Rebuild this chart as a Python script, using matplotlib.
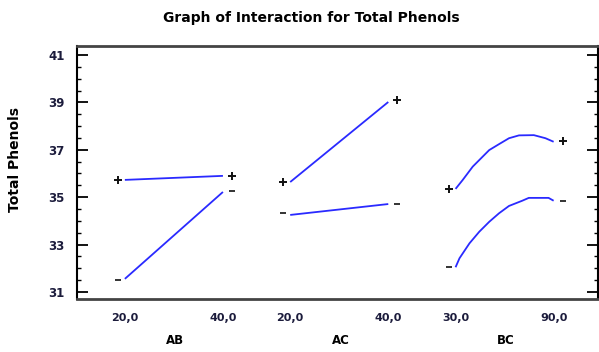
import matplotlib
matplotlib.use("Agg")
import matplotlib.pyplot as plt
from matplotlib.ticker import MultipleLocator

# interaction groups and factor levels
groups = ["AB", "AC", "BC"]
levels = [[20.0, 40.0], [20.0, 40.0], [30.0, 90.0]]
level_labels = [["20,0", "40,0"], ["20,0", "40,0"], ["30,0", "90,0"]]

# lines: x values (first factor) and Total Phenols, "+" = high level, "-" = low level
ab_x = [20.0, 40.0]
ab_plus = [35.73, 35.90]
ab_minus = [31.55, 35.22]

ac_x = [20.0, 40.0]
ac_plus = [35.64, 39.02]
ac_minus = [34.25, 34.71]

bc_plus_x = [30, 34.4, 40.5, 50.6, 56.6, 62.7, 68.8, 77.9, 85.0, 90.0]
bc_plus = [35.35, 35.73, 36.29, 36.99, 37.24, 37.49, 37.61, 37.62, 37.49, 37.34]
bc_minus_x = [30, 32.4, 38.5, 44.5, 50.6, 56.6, 62.7, 70.8, 74.8, 86.9, 90.0]
bc_minus = [32.04, 32.42, 33.05, 33.54, 33.96, 34.32, 34.63, 34.85, 34.97, 34.97, 34.85]

# end markers
mark_plus = [[35.73, 35.90], [35.64, 39.10], [35.35, 37.37]]
mark_minus = [[31.50, 35.25], [34.33, 34.71], [32.05, 34.85]]

lines = [
    [(ab_x, ab_plus), (ab_x, ab_minus)],
    [(ac_x, ac_plus), (ac_x, ac_minus)],
    [(bc_plus_x, bc_plus), (bc_minus_x, bc_minus)],
]

starts = [0.0, 1.45, 2.9]
in0, in1 = 0.06, 0.92


def to_pos(g, v, inner=True):
    lo, hi = levels[g]
    f = (v - lo) / (hi - lo)
    if inner:
        return starts[g] + in0 + (in1 - in0) * f
    return starts[g] + f


fig = plt.figure(figsize=(5.99, 3.52), dpi=100)
ax = fig.add_axes([0.1285, 0.1506, 0.8700, 0.7184])

blue = "#2a2aff"
for g in range(3):
    for xs, ys in lines[g]:
        ax.plot([to_pos(g, v) for v in xs], ys, color=blue, lw=1.3, solid_capstyle="butt")
    xm = [to_pos(g, v, inner=False) for v in levels[g]]
    ax.plot(xm, mark_plus[g], ls="none", marker="+", ms=6, mew=1.4, color="#111111")
    ax.plot(xm, mark_minus[g], ls="none", marker="_", ms=4, mew=1.4, color="#333333")

ax.set_xlim(-0.36, 4.21)
ax.set_ylim(30.7, 41.38)
ax.yaxis.set_minor_locator(MultipleLocator(0.5))
ax.set_yticks([31, 33, 35, 37, 39, 41])
ax.tick_params(axis="y", which="major", direction="in", length=8, width=1.3,
               right=True, labelsize=8.5, pad=9)
ax.tick_params(axis="y", which="minor", direction="in", length=3, width=1.0, right=True)
for lab in ax.get_yticklabels():
    lab.set_fontweight("bold")
    lab.set_color("#1c1c3c")

ticks_x = []
ticks_lab = []
for g in range(3):
    for v, s in zip(levels[g], level_labels[g]):
        ticks_x.append(to_pos(g, v))
        ticks_lab.append(s)
ax.set_xticks(ticks_x)
ax.set_xticklabels(ticks_lab, fontweight="bold", fontsize=8, color="#1c1c3c")
ax.tick_params(axis="x", length=0, pad=10)

for g, name in enumerate(groups):
    cx = starts[g] + 0.5
    ax.text(cx, -0.165, name, transform=ax.get_xaxis_transform(), ha="center",
            va="center", fontsize=8.5, fontweight="bold")

ax.spines["left"].set_linewidth(1.5)
ax.spines["right"].set_linewidth(1.5)
ax.spines["top"].set_linewidth(2.0)
ax.spines["top"].set_color("#444444")
ax.spines["bottom"].set_linewidth(2.0)
ax.spines["bottom"].set_color("#444444")

ax.set_ylabel("Total Phenols", fontsize=10, fontweight="bold")
ax.yaxis.set_label_coords(-0.105, 0.55)
fig.text(311 / 599, 1 - 18 / 352, "Graph of Interaction for Total Phenols",
         ha="center", va="center", fontsize=10, fontweight="bold")

fig.savefig("out.png", dpi=100)
